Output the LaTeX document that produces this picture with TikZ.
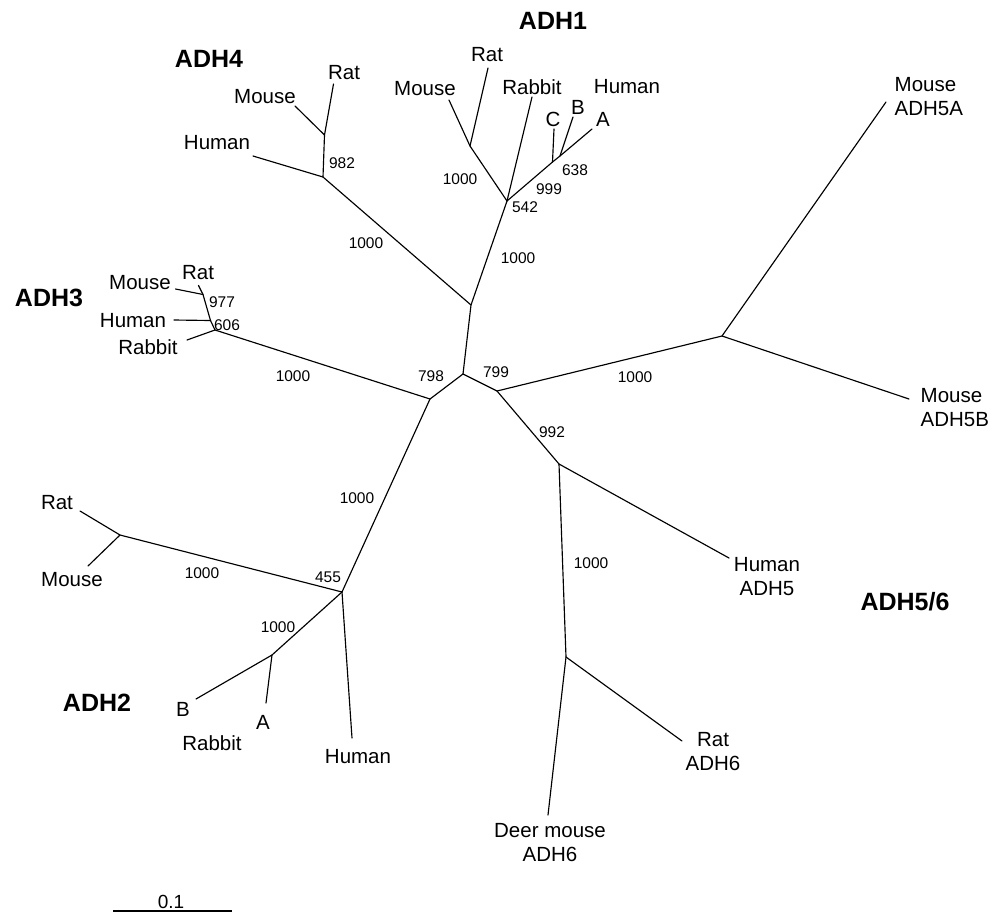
\documentclass[tikz,border=0pt]{standalone}
\usepackage{fontspec}
\setmainfont{Liberation Sans}
\begin{document}
\begin{tikzpicture}[x=1pt,y=-1pt,
  leaf/.style={font=\fontsize{20.5}{24}\selectfont, inner sep=0pt, align=center},
  boot/.style={font=\fontsize{15.5}{18}\selectfont, inner sep=0pt},
  grp/.style={font=\bfseries\fontsize{25}{30}\selectfont, inner sep=0pt},
  branch/.style={line width=1.15pt, line cap=round, line join=round}]
\useasboundingbox (0,0) rectangle (1004,914);
% internal nodes
\coordinate (c0) at (463,374);
\coordinate (j1) at (471,305);
\coordinate (n542) at (507,201);
\coordinate (nrm1) at (470,146);
\coordinate (n999) at (552.5,162);
\coordinate (n638) at (560,156);
\coordinate (n4) at (323,177);
\coordinate (n982) at (324.5,135);
\coordinate (n798) at (430,399);
\coordinate (n606) at (215,330);
\coordinate (h3) at (210.5,320.5);
\coordinate (n977) at (203,294.5);
\coordinate (n455) at (342,592);
\coordinate (nrm2) at (120,535);
\coordinate (nrb2) at (272,655);
\coordinate (n799) at (497,391);
\coordinate (n5) at (722,336);
\coordinate (n992) at (559,464);
\coordinate (n6) at (566,657);
% leaf tips
\coordinate (rat1) at (488,68);
\coordinate (mouse1) at (449,100);
\coordinate (rabbit1) at (532,97);
\coordinate (c1) at (554,129);
\coordinate (b1) at (573,117);
\coordinate (a1) at (592,129);
\coordinate (rat4) at (333.5,84);
\coordinate (mouse4) at (295,106);
\coordinate (human4) at (253,156);
\coordinate (rat3) at (198.5,285.5);
\coordinate (mouse3) at (175.5,289);
\coordinate (human3) at (174,320);
\coordinate (rabbit3) at (187,340);
\coordinate (rat2) at (80,511);
\coordinate (mouse2) at (88,566);
\coordinate (b2) at (196,699);
\coordinate (a2) at (266,703);
\coordinate (human2) at (352,738);
\coordinate (m5a) at (886,102);
\coordinate (m5b) at (909,399);
\coordinate (human5) at (729,558);
\coordinate (rat6) at (682,741);
\coordinate (deer6) at (548,815);
% branches
\draw[branch] (c0) -- (j1) -- (n542) -- (nrm1) -- (rat1);
\draw[branch] (nrm1) -- (mouse1);
\draw[branch] (n542) -- (rabbit1);
\draw[branch] (n542) -- (n999) -- (n638) -- (a1);
\draw[branch] (n999) -- (c1);
\draw[branch] (n638) -- (b1);
\draw[branch] (j1) -- (n4) -- (n982) -- (rat4);
\draw[branch] (n982) -- (mouse4);
\draw[branch] (n4) -- (human4);
\draw[branch] (c0) -- (n798) -- (n606) -- (h3) -- (n977) -- (rat3);
\draw[branch] (n977) -- (mouse3);
\draw[branch] (h3) -- (human3);
\draw[branch] (n606) -- (rabbit3);
\draw[branch] (n798) -- (n455) -- (nrm2) -- (rat2);
\draw[branch] (nrm2) -- (mouse2);
\draw[branch] (n455) -- (nrb2) -- (b2);
\draw[branch] (nrb2) -- (a2);
\draw[branch] (n455) -- (human2);
\draw[branch] (c0) -- (n799) -- (n5) -- (m5a);
\draw[branch] (n5) -- (m5b);
\draw[branch] (n799) -- (n992) -- (human5);
\draw[branch] (n992) -- (n6) -- (rat6);
\draw[branch] (n6) -- (deer6);
% group labels
\node[grp] (gADH1) at (553,21) {ADH1};
\node[grp] (gADH4) at (209,59) {ADH4};
\node[grp] (gADH3) at (49,298) {ADH3};
\node[grp] (gADH2) at (97,703) {ADH2};
\node[grp] (gADH56) at (905,602) {ADH5/6};
% ADH1 labels
\node[leaf] (lrat1) at (487,55) {Rat};
\node[leaf] (lmouse1) at (425,89) {Mouse};
\node[leaf] (lrabbit1) at (532,87) {Rabbit};
\node[leaf] (lhuman1) at (627,87) {Human};
\node[leaf] (lc1) at (553,119) {C};
\node[leaf] (lb1) at (578,107) {B};
\node[leaf] (la1) at (603,119) {A};
\node[boot] (bs1) at (460,179) {1000};
\node[boot] (bs2) at (549,189) {999};
\node[boot] (bs3) at (575,170) {638};
\node[boot] (bs4) at (525,207) {542};
\node[boot] (bs5) at (518,258) {1000};
% ADH4 labels
\node[leaf] (lrat4) at (344,73) {Rat};
\node[leaf] (lmouse4) at (265,97) {Mouse};
\node[leaf] (lhuman4) at (217,143) {Human};
\node[boot] (bs6) at (342,163) {982};
\node[boot] (bs7) at (366,243) {1000};
% ADH3 labels
\node[leaf] (lrat3) at (198,273) {Rat};
\node[leaf] (lmouse3) at (140,283) {Mouse};
\node[leaf] (lhuman3) at (133,321) {Human};
\node[leaf] (lrabbit3) at (148,347) {Rabbit};
\node[boot] (bs8) at (222,302) {977};
\node[boot] (bs9) at (227,325) {606};
\node[boot] (bs10) at (293,376) {1000};
% centre
\node[boot] (bs11) at (431,376) {798};
\node[boot] (bs12) at (496,372) {799};
% ADH2 labels
\node[leaf] (lrat2) at (57,503) {Rat};
\node[leaf] (lmouse2) at (72,580) {Mouse};
\node[boot] (bs13) at (202,573) {1000};
\node[boot] (bs14) at (328,577) {455};
\node[boot] (bs15) at (357,498) {1000};
\node[boot] (bs16) at (278,627) {1000};
\node[leaf] (lb2) at (183,709) {B};
\node[leaf] (la2) at (263,722) {A};
\node[leaf] (lrabbit2) at (212,743) {Rabbit};
\node[leaf] (lhuman2) at (358,757) {Human};
% ADH5/6 labels
\node[leaf, align=left, anchor=west] (lm5a) at (894.5,97) {Mouse\\ADH5A};
\node[leaf, align=left, anchor=west] (lm5b) at (920.5,408) {Mouse\\ADH5B};
\node[boot] (bs17) at (635,377) {1000};
\node[boot] (bs18) at (552,432) {992};
\node[leaf] (lhuman5) at (767,577) {Human\\ADH5};
\node[boot] (bs19) at (591,563) {1000};
\node[leaf] (lrat6) at (713,752) {Rat\\ADH6};
\node[leaf] (ldeer6) at (550,843) {Deer mouse\\ADH6};
% scale bar
\coordinate (sb1) at (113,911);
\coordinate (sb2) at (232,911);
\draw[branch, line cap=butt] (sb1) -- (sb2);
\node[font=\fontsize{19}{22}\selectfont, inner sep=0pt] (lsb) at (171,902) {0.1};
\end{tikzpicture}
\end{document}
